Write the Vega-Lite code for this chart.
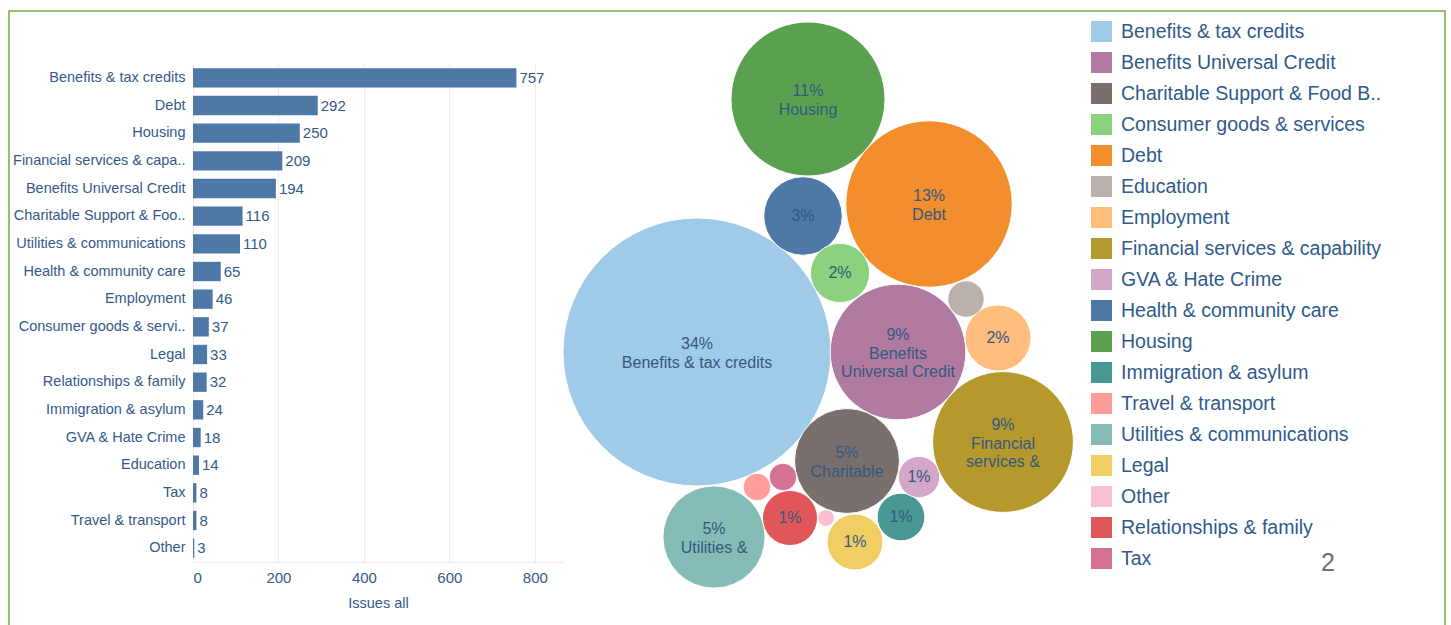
{
  "$schema": "https://vega.github.io/schema/vega-lite/v6.json",
  "width": 1436,
  "height": 640,
  "autosize": {"type": "none"},
  "padding": {"left": 9, "top": 11, "right": 6, "bottom": 0},
  "background": "white",
  "config": {
    "font": "Liberation Sans",
    "view": {"stroke": "#70ad47", "strokeWidth": 1.5}
  },
  "title": {
    "text": "2",
    "orient": "bottom",
    "anchor": "end",
    "frame": "group",
    "offset": -88,
    "dx": -110,
    "baseline": "middle",
    "fontSize": 25,
    "fontWeight": "normal",
    "color": "#6f6f6f"
  },
  "datasets": {
    "issues": [
      {"category": "Benefits & tax credits", "value": 757, "label": "34%\nBenefits & tax credits", "cx": 157, "cy": 352},
      {"category": "Debt", "value": 292, "label": "13%\nDebt", "cx": 389, "cy": 204},
      {"category": "Housing", "value": 250, "label": "11%\nHousing", "cx": 268, "cy": 99},
      {"category": "Financial services & capability", "value": 209, "label": "9%\nFinancial\nservices &", "cx": 463, "cy": 442},
      {"category": "Benefits Universal Credit", "value": 194, "label": "9%\nBenefits\nUniversal Credit", "cx": 358, "cy": 352},
      {"category": "Charitable Support & Food Banks", "value": 116, "label": "5%\nCharitable", "cx": 307, "cy": 461},
      {"category": "Utilities & communications", "value": 110, "label": "5%\nUtilities &", "cx": 174, "cy": 537},
      {"category": "Health & community care", "value": 65, "label": "3%", "cx": 263, "cy": 216},
      {"category": "Employment", "value": 46, "label": "2%", "cx": 458, "cy": 338},
      {"category": "Consumer goods & services", "value": 37, "label": "2%", "cx": 300, "cy": 273},
      {"category": "Legal", "value": 33, "label": "1%", "cx": 315, "cy": 542},
      {"category": "Relationships & family", "value": 32, "label": "1%", "cx": 250, "cy": 518},
      {"category": "Immigration & asylum", "value": 24, "label": "1%", "cx": 361, "cy": 517},
      {"category": "GVA & Hate Crime", "value": 18, "label": "1%", "cx": 379, "cy": 477},
      {"category": "Education", "value": 14, "label": "", "cx": 426, "cy": 299},
      {"category": "Tax", "value": 8, "label": "", "cx": 243, "cy": 477},
      {"category": "Travel & transport", "value": 8, "label": "", "cx": 217, "cy": 487},
      {"category": "Other", "value": 3, "label": "", "cx": 286, "cy": 518}
    ]
  },
  "data": {"name": "issues"},
  "layer": [
    {
      "encoding": {
        "y": {
          "field": "category",
          "type": "nominal",
          "sort": ["Benefits & tax credits", "Debt", "Housing", "Financial services & capability", "Benefits Universal Credit", "Charitable Support & Food Banks", "Utilities & communications", "Health & community care", "Employment", "Consumer goods & services", "Legal", "Relationships & family", "Immigration & asylum", "GVA & Hate Crime", "Education", "Tax", "Travel & transport", "Other"],
          "scale": {"range": [53, 551], "paddingInner": 0.3, "paddingOuter": 0.15},
          "axis": {
            "title": null,
            "orient": "left",
            "offset": -184,
            "labelPadding": 8,
            "ticks": false,
            "tickSize": 0,
            "domain": false,
            "grid": false,
            "labelFontSize": 14.5,
            "labelColor": "#35598a",
            "labelLimit": 400,
            "labelExpr": "datum.value == 'Financial services & capability' ? 'Financial services & capa..' : datum.value == 'Charitable Support & Food Banks' ? 'Charitable Support & Foo..' : datum.value == 'Consumer goods & services' ? 'Consumer goods & servi..' : datum.label"
          }
        }
      },
      "layer": [
        {
          "mark": {"type": "bar", "color": "#4e79a7"},
          "encoding": {
            "x": {
              "field": "value",
              "type": "quantitative",
              "scale": {"domain": [0, 866], "range": [184, 554], "nice": false, "zero": true},
              "axis": {
                "title": null,
                "orient": "top",
                "offset": -551,
                "values": [0, 200, 400, 600, 800],
                "grid": true,
                "gridColor": "#ececec",
                "gridWidth": 1,
                "labels": false,
                "ticks": false,
                "tickSize": 0,
                "domain": false
              }
            }
          }
        },
        {
          "mark": {"type": "text", "align": "left", "baseline": "middle", "dx": 3, "fontSize": 15, "color": "#35598a"},
          "encoding": {
            "x": {
              "field": "value",
              "type": "quantitative",
              "scale": {"domain": [0, 866], "range": [184, 554], "nice": false, "zero": true},
              "axis": {
                "title": "Issues all",
                "orient": "bottom",
                "offset": -89,
                "values": [0, 200, 400, 600, 800],
                "grid": false,
                "ticks": false,
                "tickSize": 0,
                "domain": true,
                "domainColor": "#ececec",
                "labelPadding": 8,
                "labelFontSize": 15,
                "labelColor": "#35598a",
                "titleFontSize": 14.5,
                "titleFontWeight": "normal",
                "titleColor": "#35598a",
                "titlePadding": 11
              }
            },
            "text": {"field": "value", "type": "quantitative"}
          }
        }
      ],
      "resolve": {"axis": {"x": "independent"}}
    },
    {
      "encoding": {
        "x": {"field": "cx", "type": "quantitative", "scale": {"domain": [0, 600], "range": [531, 1131], "nice": false, "zero": false}, "axis": null},
        "y": {"field": "cy", "type": "quantitative", "scale": {"domain": [0, 640], "range": [-11, 629], "nice": false, "zero": false}, "axis": null}
      },
      "layer": [
        {
          "mark": {"type": "circle", "opacity": 1, "stroke": "white", "strokeWidth": 1},
          "encoding": {
            "color": {
              "field": "category",
              "type": "nominal",
              "scale": {
                "domain": ["Benefits & tax credits", "Benefits Universal Credit", "Charitable Support & Food Banks", "Consumer goods & services", "Debt", "Education", "Employment", "Financial services & capability", "GVA & Hate Crime", "Health & community care", "Housing", "Immigration & asylum", "Travel & transport", "Utilities & communications", "Legal", "Other", "Relationships & family", "Tax"],
                "range": ["#a0cbe8", "#b07aa1", "#79706e", "#8cd17d", "#f28e2b", "#bab0ac", "#ffbe7d", "#b6992d", "#d4a6c8", "#4e79a7", "#59a14f", "#499894", "#ff9d9a", "#86bcb6", "#f1ce63", "#fabfd2", "#e15759", "#d37295"]
              },
              "legend": {
                "orient": "none",
                "legendX": 1082,
                "legendY": 10,
                "title": null,
                "padding": 0,
                "symbolType": "square",
                "symbolSize": 441,
                "symbolStrokeWidth": 0,
                "symbolOpacity": 1,
                "labelFontSize": 19.5,
                "labelColor": "#2f5a8b",
                "labelOffset": 9,
                "rowPadding": 10,
                "labelLimit": 400,
                "labelExpr": "datum.label == 'Charitable Support & Food Banks' ? 'Charitable Support & Food B..' : datum.label"
              }
            },
            "size": {
              "field": "value",
              "type": "quantitative",
              "scale": {"type": "linear", "domain": [0, 757], "range": [0, 71824], "zero": true},
              "legend": null
            }
          }
        },
        {
          "transform": [{"filter": "datum.label != '' && indexof(datum.label, '\\n') < 0"}],
          "mark": {"type": "text", "align": "center", "baseline": "middle", "fontSize": 16, "color": "#33587f"},
          "encoding": {"text": {"field": "label", "type": "nominal"}}
        },
        {
          "transform": [{"filter": "length(split(datum.label, '\\n')) == 2"}],
          "mark": {"type": "text", "align": "center", "baseline": "middle", "lineBreak": "\n", "fontSize": 16, "lineHeight": 18.5, "dy": -8, "color": "#33587f"},
          "encoding": {"text": {"field": "label", "type": "nominal"}}
        },
        {
          "transform": [{"filter": "length(split(datum.label, '\\n')) == 3"}],
          "mark": {"type": "text", "align": "center", "baseline": "middle", "lineBreak": "\n", "fontSize": 16, "lineHeight": 18.5, "dy": -17, "color": "#33587f"},
          "encoding": {"text": {"field": "label", "type": "nominal"}}
        }
      ]
    }
  ],
  "resolve": {"scale": {"x": "independent", "y": "independent"}}
}
